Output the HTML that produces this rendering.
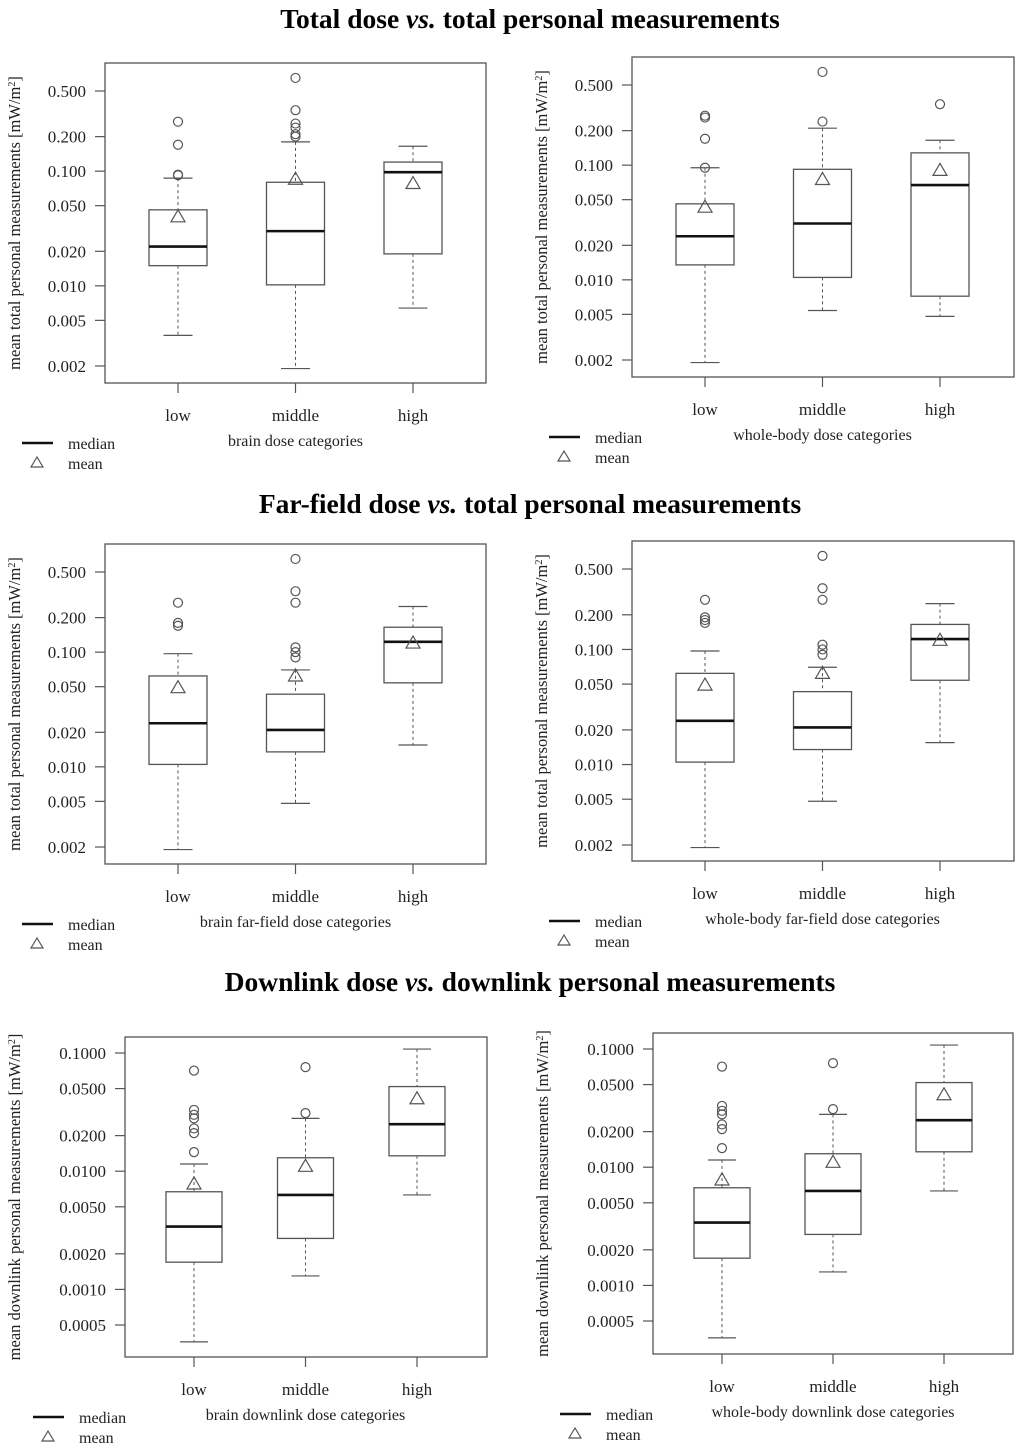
<!DOCTYPE html>
<html><head><meta charset="utf-8">
<style>
html,body{margin:0;padding:0;background:#fff;}
svg{display:block;font-family:"Liberation Serif",serif;}
</style></head>
<body>
<svg id="fig" width="1024" height="1446" viewBox="0 0 1024 1446" xmlns="http://www.w3.org/2000/svg">
<text x="530" y="28" text-anchor="middle" font-size="27.5" font-weight="bold">Total dose <tspan font-style="italic">vs.</tspan> total personal measurements</text>
<text x="530" y="513" text-anchor="middle" font-size="27.5" font-weight="bold">Far-field dose <tspan font-style="italic">vs.</tspan> total personal measurements</text>
<text x="530" y="991" text-anchor="middle" font-size="27.5" font-weight="bold">Downlink dose <tspan font-style="italic">vs.</tspan> downlink personal measurements</text>
</svg>
<script>
const categories = ["low","middle","high"];
const totalTicks = [0.5,0.2,0.1,0.05,0.02,0.01,0.005,0.002];
const totalTickLabels = ["0.500","0.200","0.100","0.050","0.020","0.010","0.005","0.002"];
const dlTicks = [0.1,0.05,0.02,0.01,0.005,0.002,0.001,0.0005];
const dlTickLabels = ["0.1000","0.0500","0.0200","0.0100","0.0050","0.0020","0.0010","0.0005"];

// panel 1: brain total
const p1WhiskerLow = [0.0037,0.0019,0.0064];
const p1Q1 = [0.015,0.0102,0.019];
const p1Median = [0.022,0.030,0.098];
const p1Q3 = [0.046,0.080,0.12];
const p1WhiskerHigh = [0.087,0.18,0.165];
const p1Mean = [0.040,0.085,0.078];
const p1Outliers = [[0.27,0.17,0.093,0.092],[0.65,0.34,0.26,0.24,0.21,0.20],[]];
// panel 2: whole-body total
const p2WhiskerLow = [0.0019,0.0054,0.0048];
const p2Q1 = [0.0135,0.0105,0.0072];
const p2Median = [0.024,0.031,0.067];
const p2Q3 = [0.046,0.092,0.128];
const p2WhiskerHigh = [0.095,0.21,0.165];
const p2Mean = [0.043,0.075,0.090];
const p2Outliers = [[0.27,0.26,0.17,0.095],[0.65,0.24],[0.34]];
// panel 3: brain far-field
const p3WhiskerLow = [0.0019,0.0048,0.0155];
const p3Q1 = [0.0105,0.0135,0.054];
const p3Median = [0.024,0.021,0.123];
const p3Q3 = [0.062,0.043,0.165];
const p3WhiskerHigh = [0.097,0.070,0.25];
const p3Mean = [0.049,0.062,0.12];
const p3Outliers = [[0.27,0.18,0.17],[0.65,0.34,0.27,0.11,0.10,0.09],[]];
// panel 4: whole-body far-field
const p4WhiskerLow = [0.0019,0.0048,0.0155];
const p4Q1 = [0.0105,0.0135,0.054];
const p4Median = [0.024,0.021,0.123];
const p4Q3 = [0.062,0.043,0.165];
const p4WhiskerHigh = [0.097,0.070,0.25];
const p4Mean = [0.049,0.062,0.12];
const p4Outliers = [[0.27,0.19,0.18,0.17],[0.65,0.34,0.27,0.11,0.10,0.09],[]];
// panel 5: brain downlink
const p5WhiskerLow = [0.00036,0.0013,0.0063];
const p5Q1 = [0.0017,0.0027,0.0135];
const p5Median = [0.0034,0.0063,0.025];
const p5Q3 = [0.0067,0.013,0.052];
const p5WhiskerHigh = [0.0115,0.028,0.108];
const p5Mean = [0.0078,0.011,0.041];
const p5Outliers = [[0.071,0.033,0.030,0.028,0.023,0.021,0.0145],[0.076,0.031],[]];
// panel 6: whole-body downlink
const p6WhiskerLow = [0.00036,0.0013,0.0063];
const p6Q1 = [0.0017,0.0027,0.0135];
const p6Median = [0.0034,0.0063,0.025];
const p6Q3 = [0.0067,0.013,0.052];
const p6WhiskerHigh = [0.0115,0.028,0.108];
const p6Mean = [0.0078,0.011,0.041];
const p6Outliers = [[0.071,0.033,0.030,0.028,0.023,0.021,0.0145],[0.076,0.031],[]];

const NS = "http://www.w3.org/2000/svg";
const svg = document.getElementById('fig');
function mk(tag, attrs, parent){
  const e = document.createElementNS(NS, tag);
  for (const k in attrs) e.setAttribute(k, attrs[k]);
  (parent||svg).appendChild(e);
  return e;
}
const LC = "#555";

function panel(cfg, d){
  const g = mk('g', {});
  
  
  const pxPerDec = (cfg.yBot - cfg.yTop) / (Math.log10(cfg.vTop) - Math.log10(cfg.vBot));
  const y = v => cfg.yTop + (Math.log10(cfg.vTop) - Math.log10(v)) * pxPerDec;
  const x = i => cfg.cx0 + i * cfg.dx;
  const frame = mk('rect', {x:cfg.L, y:cfg.T, width:cfg.R-cfg.L, height:cfg.B-cfg.T, fill:'none', stroke:LC, 'stroke-width':1.3}, g);
  
  
  cfg.ticks.forEach((v, i) => {
    const yy = y(v);
    mk('line', {x1:cfg.L-10, x2:cfg.L, y1:yy, y2:yy, stroke:LC, 'stroke-width':1.2}, g);
    const t = mk('text', {x:cfg.L-19, y:yy+6, 'text-anchor':'end', 'font-size':17, fill:'#222'}, g);
    
    
    t.textContent = cfg.tickLabels[i];
  });
  const yt = mk('text', {x:0, y:0, 'text-anchor':'middle', 'font-size':16.5, fill:'#222', transform:`translate(${cfg.ytx},${(cfg.T+cfg.B)/2}) rotate(-90)`}, g);
  
  
  yt.innerHTML = cfg.ytitle + ' [mW/m<tspan font-size="10" dy="-5">2</tspan><tspan dy="5">]</tspan>';
  categories.forEach((c, i) => {
    mk('line', {x1:x(i), x2:x(i), y1:cfg.B, y2:cfg.B+10, stroke:LC, 'stroke-width':1.2}, g);
    const t = mk('text', {x:x(i), y:cfg.B+38, 'text-anchor':'middle', 'font-size':17, fill:'#222'}, g);
    
    
    t.textContent = c;
  });
  const xt = mk('text', {x:x(1), y:cfg.B+63, 'text-anchor':'middle', 'font-size':16, fill:'#222'}, g);
  
  
  xt.textContent = cfg.xtitle;
  const hw = cfg.hw;
  categories.forEach((c, i) => {
    const cx = x(i);
    const bg = mk('g', {}, g);
    
    
    mk('line', {x1:cx, x2:cx, y1:y(d.hi[i]), y2:y(d.q3[i]), stroke:LC, 'stroke-dasharray':'3,3'}, bg);
    mk('line', {x1:cx, x2:cx, y1:y(d.q1[i]), y2:y(d.lo[i]), stroke:LC, 'stroke-dasharray':'3,3'}, bg);
    mk('line', {x1:cx-hw/2, x2:cx+hw/2, y1:y(d.hi[i]), y2:y(d.hi[i]), stroke:LC, 'stroke-width':1.2}, bg);
    mk('line', {x1:cx-hw/2, x2:cx+hw/2, y1:y(d.lo[i]), y2:y(d.lo[i]), stroke:LC, 'stroke-width':1.2}, bg);
    mk('rect', {x:cx-hw, y:y(d.q3[i]), width:2*hw, height:y(d.q1[i])-y(d.q3[i]), fill:'#fff', stroke:LC, 'stroke-width':1.3}, bg);
    mk('line', {x1:cx-hw, x2:cx+hw, y1:y(d.med[i]), y2:y(d.med[i]), stroke:'#111', 'stroke-width':2.6}, bg);
    const ym = y(d.mean[i]);
    const tri = mk('polygon', {points:`${cx},${ym-7} ${cx-7},${ym+5} ${cx+7},${ym+5}`, fill:'none', stroke:LC, 'stroke-width':1.2}, bg);
    
    
    d.out[i].forEach(v => {
      const o = mk('circle', {cx:cx, cy:y(v), r:4.5, fill:'none', stroke:LC, 'stroke-width':1.2}, bg);
      
      
    });
  });
  const lg = mk('g', {}, g);
  
  
  const lx = cfg.legX, ly = cfg.B + 60;
  mk('line', {x1:lx, x2:lx+31, y1:ly, y2:ly, stroke:'#111', 'stroke-width':2.6}, lg);
  const t1 = mk('text', {x:lx+46, y:ly+6, 'font-size':16, fill:'#222'}, lg);
  t1.textContent = 'median';
  const tl = ly + 20;
  mk('polygon', {points:`${lx+15},${tl-6} ${lx+9},${tl+4} ${lx+21},${tl+4}`, fill:'none', stroke:LC, 'stroke-width':1.2}, lg);
  const t2 = mk('text', {x:lx+46, y:tl+6, 'font-size':16, fill:'#222'}, lg);
  t2.textContent = 'mean';
}

const yTitleTotal = 'mean total personal measurements';
const yTitleDl = 'mean downlink personal measurements';
panel({name:'panel-brain-total', L:105,T:63,R:486,B:383, vTop:0.5,yTop:91,vBot:0.002,yBot:366, cx0:178,dx:117.5,hw:29, ytx:20,
  ticks:totalTicks,tickLabels:totalTickLabels, ytitle:yTitleTotal, xtitle:'brain dose categories', legX:22},
  {lo:p1WhiskerLow,q1:p1Q1,med:p1Median,q3:p1Q3,hi:p1WhiskerHigh,mean:p1Mean,out:p1Outliers});
panel({name:'panel-wholebody-total', L:632,T:57,R:1014,B:377, vTop:0.5,yTop:85,vBot:0.002,yBot:360, cx0:705,dx:117.5,hw:29, ytx:547,
  ticks:totalTicks,tickLabels:totalTickLabels, ytitle:yTitleTotal, xtitle:'whole-body dose categories', legX:549},
  {lo:p2WhiskerLow,q1:p2Q1,med:p2Median,q3:p2Q3,hi:p2WhiskerHigh,mean:p2Mean,out:p2Outliers});
panel({name:'panel-brain-farfield', L:105,T:544,R:486,B:864, vTop:0.5,yTop:572,vBot:0.002,yBot:847, cx0:178,dx:117.5,hw:29, ytx:20,
  ticks:totalTicks,tickLabels:totalTickLabels, ytitle:yTitleTotal, xtitle:'brain far-field dose categories', legX:22},
  {lo:p3WhiskerLow,q1:p3Q1,med:p3Median,q3:p3Q3,hi:p3WhiskerHigh,mean:p3Mean,out:p3Outliers});
panel({name:'panel-wholebody-farfield', L:632,T:541,R:1014,B:861, vTop:0.5,yTop:569,vBot:0.002,yBot:845, cx0:705,dx:117.5,hw:29, ytx:547,
  ticks:totalTicks,tickLabels:totalTickLabels, ytitle:yTitleTotal, xtitle:'whole-body far-field dose categories', legX:549},
  {lo:p4WhiskerLow,q1:p4Q1,med:p4Median,q3:p4Q3,hi:p4WhiskerHigh,mean:p4Mean,out:p4Outliers});
panel({name:'panel-brain-downlink', L:125,T:1037,R:487,B:1357, vTop:0.1,yTop:1053,vBot:0.0005,yBot:1325, cx0:194,dx:111.5,hw:28, ytx:20,
  ticks:dlTicks,tickLabels:dlTickLabels, ytitle:yTitleDl, xtitle:'brain downlink dose categories', legX:33},
  {lo:p5WhiskerLow,q1:p5Q1,med:p5Median,q3:p5Q3,hi:p5WhiskerHigh,mean:p5Mean,out:p5Outliers});
panel({name:'panel-wholebody-downlink', L:653,T:1033,R:1013,B:1354, vTop:0.1,yTop:1049,vBot:0.0005,yBot:1321, cx0:722,dx:111,hw:28, ytx:548,
  ticks:dlTicks,tickLabels:dlTickLabels, ytitle:yTitleDl, xtitle:'whole-body downlink dose categories', legX:560},
  {lo:p6WhiskerLow,q1:p6Q1,med:p6Median,q3:p6Q3,hi:p6WhiskerHigh,mean:p6Mean,out:p6Outliers});
</script>
</body></html>
